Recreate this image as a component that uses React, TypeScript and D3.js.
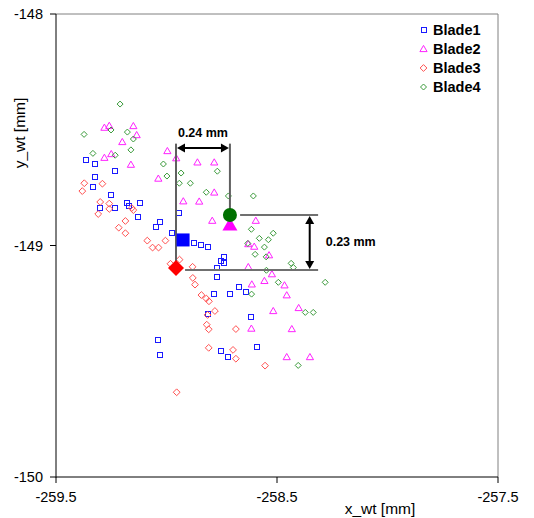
import React from "react";
import * as d3 from "d3";

const xTicks = [-259.5, -258.5, -257.5];
const yTicks = [-148, -149, -150];
const tickLabelsX = ["-259.5", "-258.5", "-257.5"];
const tickLabelsY = ["-148", "-149", "-150"];
const seriesNames = ["Blade1", "Blade2", "Blade3", "Blade4"];

const blade1: [number, number][] = [
  [-259.366, -148.631], [-259.324, -148.648], [-259.233, -148.678], [-259.324, -148.706],
  [-259.333, -148.746], [-259.251, -148.782], [-259.301, -148.838], [-259.234, -148.838],
  [-259.179, -148.816], [-259.17, -148.829], [-259.12, -148.816], [-259.129, -148.876],
  [-259.029, -148.899], [-259.048, -148.92], [-258.975, -148.946], [-258.942, -148.86],
  [-258.876, -148.989], [-258.844, -148.999], [-258.812, -149.008], [-258.74, -149.05],
  [-258.753, -149.067], [-258.738, -149.077], [-258.77, -149.097], [-258.77, -149.136],
  [-258.784, -149.211], [-258.713, -149.211], [-258.671, -149.181], [-258.64, -149.199],
  [-258.811, -149.297], [-258.616, -149.31], [-259.038, -149.41], [-259.029, -149.472],
  [-258.753, -149.457], [-258.72, -149.48], [-258.589, -149.44],
];

const blade2: [number, number][] = [
  [-259.281, -148.491], [-259.259, -148.483], [-259.15, -148.484], [-259.135, -148.523],
  [-259.2, -148.553], [-259.281, -148.621], [-259.25, -148.605], [-259.161, -148.651],
  [-258.996, -148.592], [-258.956, -148.623], [-259.037, -148.711], [-258.86, -148.641],
  [-258.784, -148.641], [-258.784, -148.771], [-258.924, -148.809], [-258.852, -148.81],
  [-258.793, -148.893], [-258.596, -148.893], [-258.63, -148.994], [-258.603, -149.005],
  [-258.536, -149.042], [-258.63, -149.093], [-258.523, -149.124], [-258.557, -149.153],
  [-258.614, -149.168], [-258.466, -149.172], [-258.456, -149.215], [-258.517, -149.283],
  [-258.402, -149.27], [-258.616, -149.359], [-258.433, -149.361], [-258.456, -149.482],
  [-258.351, -149.482],
];

const blade3: [number, number][] = [
  [-259.372, -148.731], [-259.29, -148.733], [-259.381, -148.765], [-259.3, -148.812],
  [-259.259, -148.819], [-259.259, -148.842], [-259.309, -148.864], [-259.157, -148.838],
  [-259.15, -148.847], [-259.186, -148.894], [-259.216, -148.923], [-259.186, -148.947],
  [-259.087, -148.979], [-259.005, -148.979], [-259.063, -149.009], [-259.036, -149.009],
  [-258.982, -149.079], [-258.941, -149.061], [-258.882, -149.092], [-258.881, -149.14],
  [-258.871, -149.169], [-258.842, -149.214], [-258.82, -149.229], [-258.808, -149.241],
  [-258.781, -149.283], [-258.814, -149.3], [-258.818, -149.342], [-258.809, -149.362],
  [-258.686, -149.361], [-258.809, -149.442], [-258.699, -149.451], [-258.686, -149.489],
  [-258.954, -149.634], [-258.554, -149.519],
];

const blade4: [number, number][] = [
  [-259.21, -148.389], [-259.373, -148.52], [-259.251, -148.501], [-259.177, -148.51],
  [-259.15, -148.54], [-259.161, -148.587], [-259.333, -148.602], [-259.232, -148.61],
  [-259.014, -148.648], [-258.998, -148.7], [-258.934, -148.687], [-258.942, -148.731],
  [-258.892, -148.731], [-258.77, -148.679], [-258.82, -148.77], [-258.72, -148.786],
  [-258.607, -148.786], [-258.616, -148.93], [-258.58, -148.969], [-258.539, -148.975],
  [-258.517, -148.947], [-258.557, -149.007], [-258.599, -149.038], [-258.549, -149.049],
  [-258.632, -148.991], [-258.548, -149.107], [-258.494, -149.159], [-258.436, -149.077],
  [-258.426, -149.095], [-258.615, -149.21], [-258.372, -149.289], [-258.336, -149.289],
  [-258.282, -149.159], [-258.404, -149.518],
];

// mean positions
const meanX = [-258.925, -258.713, -258.957, -258.713];
const meanY = [-148.976, -148.914, -149.097, -148.868];

// annotation values
const dxLabel = "0.24 mm";
const dyLabel = "0.23 mm";
const dxArrowY = -148.579;
const dxLineTop = -148.56;
const dyArrowX = -258.352;
const dyLineEnd = -258.314;
const dyLineStartTop = -258.667;
const dyLineStartBottom = -258.916;

const W = 534;
const H = 518;
const FONT = "'Liberation Sans', Arial, sans-serif";

const colors = ["#1a1aff", "#ff22ff", "#ff5050", "#3a9a3a"];
const bigColors = ["#0000ff", "#ff00ff", "#ff0000", "#007000"];

function Marker({ kind, cx, cy, color }: { kind: number; cx: number; cy: number; color: string }) {
  if (kind === 0) {
    return <rect x={Math.round(cx) - 2.5} y={Math.round(cy) - 2.5} width={5} height={5} fill="none" stroke={color} strokeWidth={1} />;
  }
  if (kind === 1) {
    const p = `M${cx},${cy - 3.6}L${cx + 3.6},${cy + 2.6}L${cx - 3.6},${cy + 2.6}Z`;
    return <path d={p} fill="none" stroke={color} strokeWidth={1} />;
  }
  const r = kind === 2 ? 3.4 : 3;
  const p = `M${cx},${cy - r}L${cx + r},${cy}L${cx},${cy + r}L${cx - r},${cy}Z`;
  return <path d={p} fill="none" stroke={color} strokeWidth={1} />;
}

export default function App() {
  const x = d3.scaleLinear().domain([-259.5, -257.5]).range([56, 498]);
  const y = d3.scaleLinear().domain([-150, -148]).range([477, 14]);
  const all = [blade1, blade2, blade3, blade4];

  const gx = x(meanX[3]);
  const gy = y(meanY[3]);
  const rx = x(meanX[2]);
  const ry = y(meanY[2]);
  const ay = y(dxArrowY);
  const lineTop = y(dxLineTop);
  const ax = x(dyArrowX);
  const head = 8;
  const hw = 4.5;

  return (
    <div style={{ position: "absolute", left: 0, top: 0 }}>
      <svg width={W} height={H} style={{ display: "block", background: "#fff" }}>
        {/* plot frame */}
        <line x1={56} y1={14} x2={498} y2={14} stroke="#808080" strokeWidth={1} />
        <line x1={498} y1={14} x2={498} y2={477} stroke="#808080" strokeWidth={1} />
        {/* axes */}
        <line x1={56} y1={14} x2={56} y2={477.5} stroke="#000" strokeWidth={1} />
        <line x1={56} y1={477} x2={498} y2={477} stroke="#000" strokeWidth={1} />
        {xTicks.map((t, i) => (
          <g key={"xt" + i}>
            <line x1={x(t)} x2={x(t)} y1={477} y2={483} stroke="#000" strokeWidth={1} />
            <text x={x(t)} y={502} textAnchor="middle" fontFamily={FONT} fontSize={14.5} fill="#000">
              {tickLabelsX[i]}
            </text>
          </g>
        ))}
        {yTicks.map((t, i) => (
          <g key={"yt" + i}>
            <line x1={50} x2={56} y1={y(t)} y2={y(t)} stroke="#000" strokeWidth={1} />
            <text x={43} y={y(t) + 5} textAnchor="end" fontFamily={FONT} fontSize={14.5} fill="#000">
              {tickLabelsY[i]}
            </text>
          </g>
        ))}
        <text x={380} y={514} textAnchor="middle" fontFamily={FONT} fontSize={15.5} fill="#000">
          x_wt [mm]
        </text>
        <text
          transform={`translate(25,133) rotate(-90)`}
          textAnchor="middle"
          fontFamily={FONT}
          fontSize={15.5}
          fill="#000"
        >
          y_wt [mm]
        </text>

        {/* scatter points */}
        {all.map((s, si) => (
          <g key={"s" + si}>
            {s.map((p, pi) => (
              <Marker key={pi} kind={si} cx={x(p[0])} cy={y(p[1])} color={colors[si]} />
            ))}
          </g>
        ))}

        {/* guide lines */}
        <line x1={rx} x2={rx} y1={lineTop} y2={ry} stroke="#606060" strokeWidth={2} />
        <line x1={gx} x2={gx} y1={lineTop} y2={gy} stroke="#606060" strokeWidth={2} />
        <line x1={x(dyLineStartTop)} x2={x(dyLineEnd)} y1={gy} y2={gy} stroke="#707070" strokeWidth={2} />
        <line x1={x(dyLineStartBottom)} x2={x(dyLineEnd)} y1={ry + 2} y2={ry + 2} stroke="#707070" strokeWidth={2} />

        {/* horizontal double arrow */}
        <line x1={rx + head} x2={gx - head} y1={ay} y2={ay} stroke="#000" strokeWidth={2} />
        <path d={`M${rx + 1},${ay}L${rx + 1 + head},${ay - hw}L${rx + 1 + head},${ay + hw}Z`} fill="#000" />
        <path d={`M${gx - 1},${ay}L${gx - 1 - head},${ay - hw}L${gx - 1 - head},${ay + hw}Z`} fill="#000" />
        <text x={(rx + gx) / 2} y={ay - 11} textAnchor="middle" fontFamily={FONT} fontSize={12.5} fontWeight="bold" fill="#000">
          {dxLabel}
        </text>

        {/* vertical double arrow */}
        <line x1={ax} x2={ax} y1={gy + head} y2={ry + 2 - head} stroke="#000" strokeWidth={2} />
        <path d={`M${ax},${gy + 1}L${ax - hw},${gy + 1 + head}L${ax + hw},${gy + 1 + head}Z`} fill="#000" />
        <path d={`M${ax},${ry + 1}L${ax - hw},${ry + 1 - head}L${ax + hw},${ry + 1 - head}Z`} fill="#000" />
        <text x={ax + 16} y={(gy + ry) / 2 + 5} textAnchor="start" fontFamily={FONT} fontSize={12.5} fontWeight="bold" fill="#000">
          {dyLabel}
        </text>

        {/* mean markers */}
        <rect x={x(meanX[0]) - 6.5} y={y(meanY[0]) - 6.5} width={13} height={13} fill={bigColors[0]} />
        <path
          d={`M${x(meanX[1])},${y(meanY[1]) - 8}L${x(meanX[1]) + 7.5},${y(meanY[1]) + 5}L${x(meanX[1]) - 7.5},${y(meanY[1]) + 5}Z`}
          fill={bigColors[1]}
        />
        <circle cx={gx} cy={gy} r={7} fill={bigColors[3]} />
        <path d={`M${rx},${ry - 8}L${rx + 8},${ry}L${rx},${ry + 8}L${rx - 8},${ry}Z`} fill={bigColors[2]} />

        {/* legend */}
        {seriesNames.map((n, i) => {
          const ly = 30 + i * 19;
          return (
            <g key={"lg" + i}>
              <Marker kind={i} cx={423.5} cy={ly} color={colors[i]} />
              <text x={433} y={ly + 5} fontFamily={FONT} fontSize={14.5} fontWeight="bold" fill="#000">
                {n}
              </text>
            </g>
          );
        })}
      </svg>
    </div>
  );
}
